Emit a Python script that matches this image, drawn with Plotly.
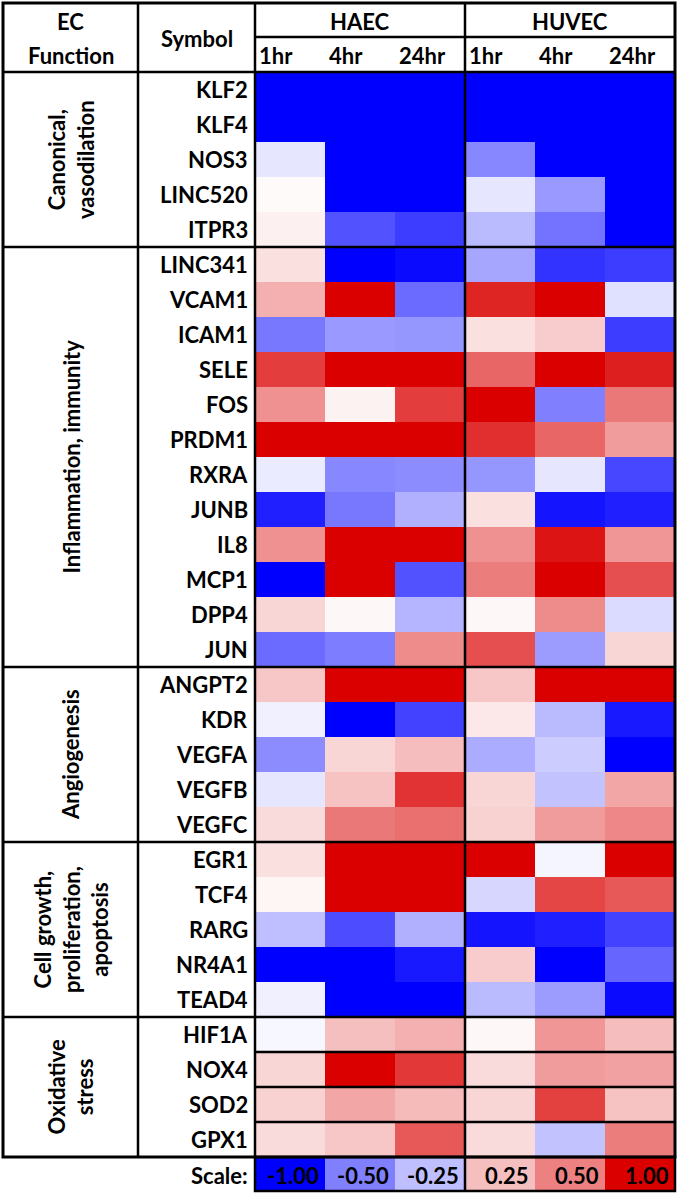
import plotly.graph_objects as go

# ---------------- data ----------------
groups = ["Canonical,<br>vasodilation", "Inflammation, immunity", "Angiogenesis",
          "Cell growth,<br>proliferation,<br>apoptosis", "Oxidative<br>stress"]
group_sizes = [5, 12, 5, 5, 4]
genes = ["KLF2", "KLF4", "NOS3", "LINC520", "ITPR3",
         "LINC341", "VCAM1", "ICAM1", "SELE", "FOS", "PRDM1", "RXRA", "JUNB", "IL8", "MCP1", "DPP4", "JUN",
         "ANGPT2", "KDR", "VEGFA", "VEGFB", "VEGFC",
         "EGR1", "TCF4", "RARG", "NR4A1", "TEAD4",
         "HIF1A", "NOX4", "SOD2", "GPX1"]
cell_lines = ["HAEC", "HUVEC"]
timepoints = ["1hr", "4hr", "24hr"]

haec = [
    [-1, -1, -1], [-1, -1, -1], [-0.10, -1, -1], [0.02, -1, -1], [0.06, -0.68, -0.76],
    [0.12, -1, -0.96], [0.31, 1, -0.58], [-0.53, -0.40, -0.41], [0.76, 1, 1], [0.43, 0.05, 0.76],
    [1, 1, 1], [-0.08, -0.47, -0.45], [-0.88, -0.53, -0.31], [0.43, 1, 1], [-1, 1, -0.68],
    [0.16, 0.03, -0.29], [-0.58, -0.51, 0.45],
    [0.22, 1, 1], [-0.06, -1, -0.74], [-0.45, 0.16, 0.26], [-0.10, 0.24, 0.80], [0.14, 0.53, 0.56],
    [0.12, 1, 1], [0.04, 1, 1], [-0.25, -0.70, -0.31], [-1, -1, -0.90], [-0.06, -1, -1],
    [-0.03, 0.25, 0.31], [0.16, 1, 0.78], [0.18, 0.35, 0.27], [0.14, 0.22, 0.65],
]
huvec = [
    [-1, -1, -1], [-1, -1, -1], [-0.47, -1, -1], [-0.10, -0.40, -1], [-0.27, -0.55, -1],
    [-0.35, -0.80, -0.76], [0.86, 1, -0.12], [0.12, 0.20, -0.76], [0.60, 1, 0.88], [1, -0.50, 0.53],
    [0.82, 0.60, 0.39], [-0.41, -0.10, -0.72], [0.12, -0.92, -0.88], [0.43, 0.92, 0.41], [0.51, 1, 0.69],
    [0.03, 0.45, -0.14], [0.69, -0.39, 0.16],
    [0.22, 1, 1], [0.09, -0.27, -0.90], [-0.33, -0.20, -1], [0.16, -0.24, 0.35], [0.18, 0.39, 0.47],
    [1, -0.04, 1], [-0.16, 0.73, 0.65], [-0.92, -0.88, -0.74], [0.20, -1, -0.60], [-0.27, -0.39, -0.96],
    [0.03, 0.41, 0.26], [0.14, 0.39, 0.37], [0.16, 0.75, 0.24], [0.14, -0.24, 0.51],
]
scale_values = [-1.00, -0.50, -0.25, 0.25, 0.50, 1.00]

# ---------------- layout constants (pixels) ----------------
W, H = 677, 1194
X0, XSYM, XDAT, COLW = 3, 138, 255, 70
XEND = XDAT + 6 * COLW
YTOP, YMID, YHDR, ROWH = 3, 37, 72, 35
YBOT = YHDR + ROWH * len(genes)
SCALE_H = 34
FONT = "Lato"
FS = 22

colorscale = [[0.0, "rgb(0,0,255)"], [0.5, "rgb(255,255,255)"], [1.0, "rgb(218,0,0)"]]

z = [haec[i] + huvec[i] for i in range(len(genes))]
xedges = [XDAT + COLW * k for k in range(7)]
yedges = [YHDR + ROWH * i for i in range(len(genes) + 1)]

fig = go.Figure()
fig.add_trace(go.Heatmap(x=xedges, y=yedges, z=z, colorscale=colorscale, zmin=-1, zmax=1,
                         showscale=False, hoverinfo="skip", xgap=0, ygap=0))
fig.add_trace(go.Heatmap(x=xedges, y=[YBOT, YBOT + SCALE_H], z=[scale_values],
                         colorscale=colorscale, zmin=-1, zmax=1, showscale=False, hoverinfo="skip"))

shapes = []
def line(x0, y0, x1, y1, w=2.5):
    shapes.append(dict(type="line", xref="x", yref="y", x0=x0, y0=y0, x1=x1, y1=y1,
                       line=dict(color="black", width=w)))

# outer border
shapes.append(dict(type="rect", xref="x", yref="y", x0=X0, y0=YTOP, x1=XEND, y1=YBOT,
                   line=dict(color="black", width=3)))
for xv in (XSYM, XDAT, XDAT + 3 * COLW):
    line(xv, YTOP, xv, YBOT)
line(XDAT, YMID, XEND, YMID)
line(X0, YHDR, XEND, YHDR)
# group boundaries
acc = 0
for gsize in group_sizes[:-1]:
    acc += gsize
    line(X0, YHDR + ROWH * acc, XEND, YHDR + ROWH * acc)
# row lines in last group (data area)
start_last = len(genes) - group_sizes[-1]
for k in range(1, group_sizes[-1]):
    yv = YHDR + ROWH * (start_last + k)
    line(XDAT, yv, XEND, yv)
# scale box
shapes.append(dict(type="rect", xref="x", yref="y", x0=XDAT, y0=YBOT, x1=XEND, y1=YBOT + SCALE_H,
                   line=dict(color="black", width=2.5)))
line(XDAT + 3 * COLW, YBOT, XDAT + 3 * COLW, YBOT + SCALE_H)

ann = []
def text(t, x, y, xanchor="center", angle=0, size=FS):
    ann.append(dict(text=t, x=x, y=y, xref="x", yref="y", xanchor=xanchor, yanchor="middle",
                    showarrow=False, textangle=angle,
                    font=dict(family=FONT, size=size, color="black", weight="bold")))

text("EC", (X0 + XSYM) / 2, 21)
text("Function", (X0 + XSYM) / 2, 55)
text("Symbol", (XSYM + XDAT) / 2, 38)
for ci, cl in enumerate(cell_lines):
    text(cl, XDAT + COLW * (3 * ci + 1.5), 21)
    for ti, tp in enumerate(timepoints):
        text(tp, XDAT + COLW * (3 * ci + ti) + 2, 55, xanchor="left")
for i, g in enumerate(genes):
    text(g, XDAT - 5, YHDR + ROWH * (i + 0.5), xanchor="right")
acc = 0
for g, gsize in zip(groups, group_sizes):
    yc = YHDR + ROWH * (acc + gsize / 2)
    text(g, (X0 + XSYM) / 2, yc, angle=-90)
    acc += gsize
text("Scale:", XDAT - 5, YBOT + SCALE_H / 2 + 1, xanchor="right")
for k, v in enumerate(scale_values):
    text(f"{v:.2f}", XDAT + COLW * (k + 1) - 4, YBOT + SCALE_H / 2 + 1, xanchor="right")

fig.update_layout(
    width=W, height=H, margin=dict(l=0, r=0, t=0, b=0),
    paper_bgcolor="white", plot_bgcolor="white",
    xaxis=dict(range=[0, W], visible=False, fixedrange=True),
    yaxis=dict(range=[H, 0], visible=False, fixedrange=True),
    shapes=shapes, annotations=ann, showlegend=False,
)
fig.write_html("out.html", post_script="document.body.style.margin='0px';",
               config={"displayModeBar": False})
